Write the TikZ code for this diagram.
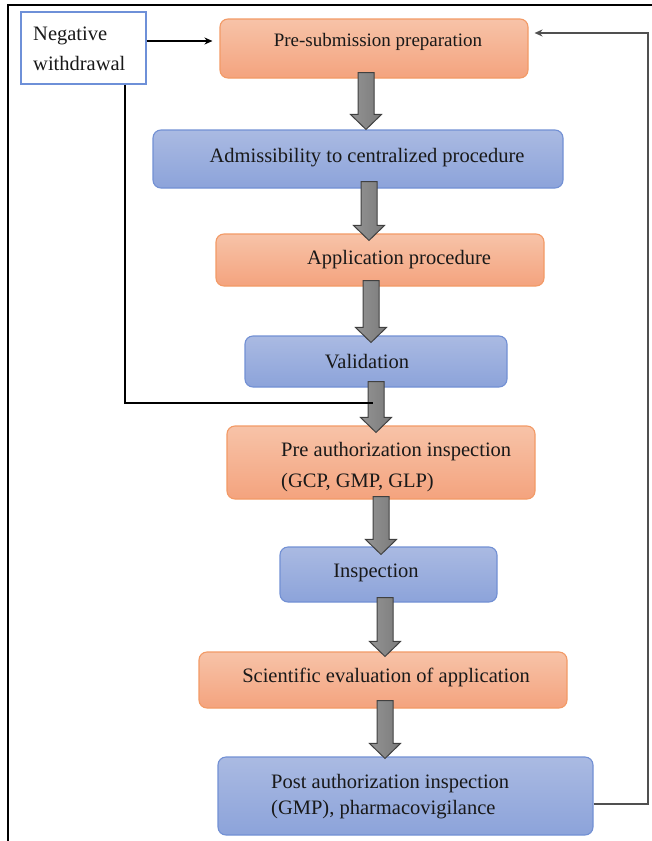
\documentclass[tikz,border=0pt]{standalone}
\usepackage{fontspec}
\setmainfont{Liberation Serif}
\usetikzlibrary{arrows.meta,calc}
\definecolor{otop}{HTML}{F7C3A8}
\definecolor{obot}{HTML}{F4A37E}
\definecolor{oedge}{HTML}{F29A66}
\definecolor{btop}{HTML}{AABAE2}
\definecolor{bbot}{HTML}{8CA3DA}
\definecolor{bedge}{HTML}{7290D4}
\definecolor{negedge}{HTML}{6E90D8}
\definecolor{fback}{HTML}{505050}
\tikzset{
  box/.style={rounded corners=8pt, line width=1.1pt, inner sep=0pt},
  obox/.style={box, draw=oedge, top color=otop, bottom color=obot},
  bbox/.style={box, draw=bedge, top color=btop, bottom color=bbot},
  txt/.style={font=\fontsize{20.5}{29}\selectfont, inner sep=0pt, text=black!90},
  barrowstyle/.style={draw=black!75, line width=1pt, left color=black!42, middle color=black!30, right color=black!52},
  thinline/.style={draw=black, line width=1.1pt},
}
\newcommand\blockarrow[5]{% x, source, target, start overlap, tip overlap
  \path[barrowstyle] let \p1=(#2.south), \p2=(#3.north) in
   (#1pt-8pt,\y1+#4pt) -- (#1pt+8pt,\y1+#4pt) -- (#1pt+8pt,\y2-#5pt+15pt)
   -- (#1pt+15.5pt,\y2-#5pt+15pt) -- (#1pt,\y2-#5pt) -- (#1pt-15.5pt,\y2-#5pt+15pt)
   -- (#1pt-8pt,\y2-#5pt+15pt) -- cycle;}
\begin{document}
\begin{tikzpicture}[x=1pt,y=-1pt]
\useasboundingbox (0,0) rectangle (652,841);
% frame
\coordinate (ftl) at (8,5);
\coordinate (ftr) at (652,5);
\coordinate (fbl) at (8,841);
\draw[line width=2.2pt] (ftr) -- (ftl) -- (fbl);

% boxes
\node[obox, minimum width=308, minimum height=59] (b1) at (374,48.5) {};
\node[bbox, minimum width=410, minimum height=58] (b2) at (358,159) {};
\node[obox, minimum width=328, minimum height=52] (b3) at (380,260) {};
\node[bbox, minimum width=262, minimum height=51] (b4) at (376,361.5) {};
\node[obox, minimum width=308, minimum height=73] (b5) at (381,462.5) {};
\node[bbox, minimum width=217, minimum height=55] (b6) at (388.5,574.5) {};
\node[obox, minimum width=368, minimum height=56] (b7) at (383,680) {};
\node[bbox, minimum width=375, minimum height=78] (b8) at (405.5,796) {};
\node[draw=negedge, line width=1.1pt, fill=white, minimum width=125, minimum height=72, inner sep=0pt] (neg) at (83.5,48) {};

% texts
\node[txt, font=\fontsize{19}{24}\selectfont] (t1) at (378,42) {Pre-submission preparation};
\node[txt] (t2) at (367,157.5) {Admissibility to centralized procedure};
\node[txt] (t3) at (399,259.5) {Application procedure};
\node[txt] (t4) at (367,361.5) {Validation};
\node[txt, font=\fontsize{20.5}{31}\selectfont, align=left, anchor=west] (t5) at (281,467.5) {Pre authorization inspection\\(GCP, GMP, GLP)};
\node[txt] (t6) at (376,572.5) {Inspection};
\node[txt] (t7) at (386,677.5) {Scientific evaluation of application};
\node[txt, font=\fontsize{20.5}{26}\selectfont, align=left, anchor=west] (t8) at (271,797) {Post authorization inspection\\(GMP), pharmacovigilance};
\node[txt, font=\fontsize{20.5}{30}\selectfont, align=left, anchor=west] (tn) at (33,48.5) {Negative\\withdrawal};

% block arrows
\blockarrow{366}{b1}{b2}{6}{0}
\blockarrow{369}{b2}{b3}{7}{7}
\blockarrow{371}{b3}{b4}{6}{7}
\blockarrow{376}{b4}{b5}{6}{7}
\blockarrow{381}{b5}{b6}{3}{8}
\blockarrow{385}{b6}{b7}{5}{5}
\blockarrow{385}{b7}{b8}{8}{2}

% negative withdrawal connectors
\coordinate (nj) at (373,403);
\draw[thinline, -{Stealth[length=8pt,width=7pt]}, shorten >=7pt] (neg.east |- 0,41) -- (b1.west |- 0,41);
\draw[thinline] (neg.south -| 125,0) |- (nj);

% feedback
\coordinate (fb1) at (648,804);
\coordinate (fb2) at (648,33);
\draw[draw=fback, line width=1.4pt, -{Stealth[length=8pt,width=7pt]}, shorten >=6pt]
  (b8.east |- fb1) -- (fb1) -- (fb2) -- (b1.east |- fb2);
\end{tikzpicture}
\end{document}
